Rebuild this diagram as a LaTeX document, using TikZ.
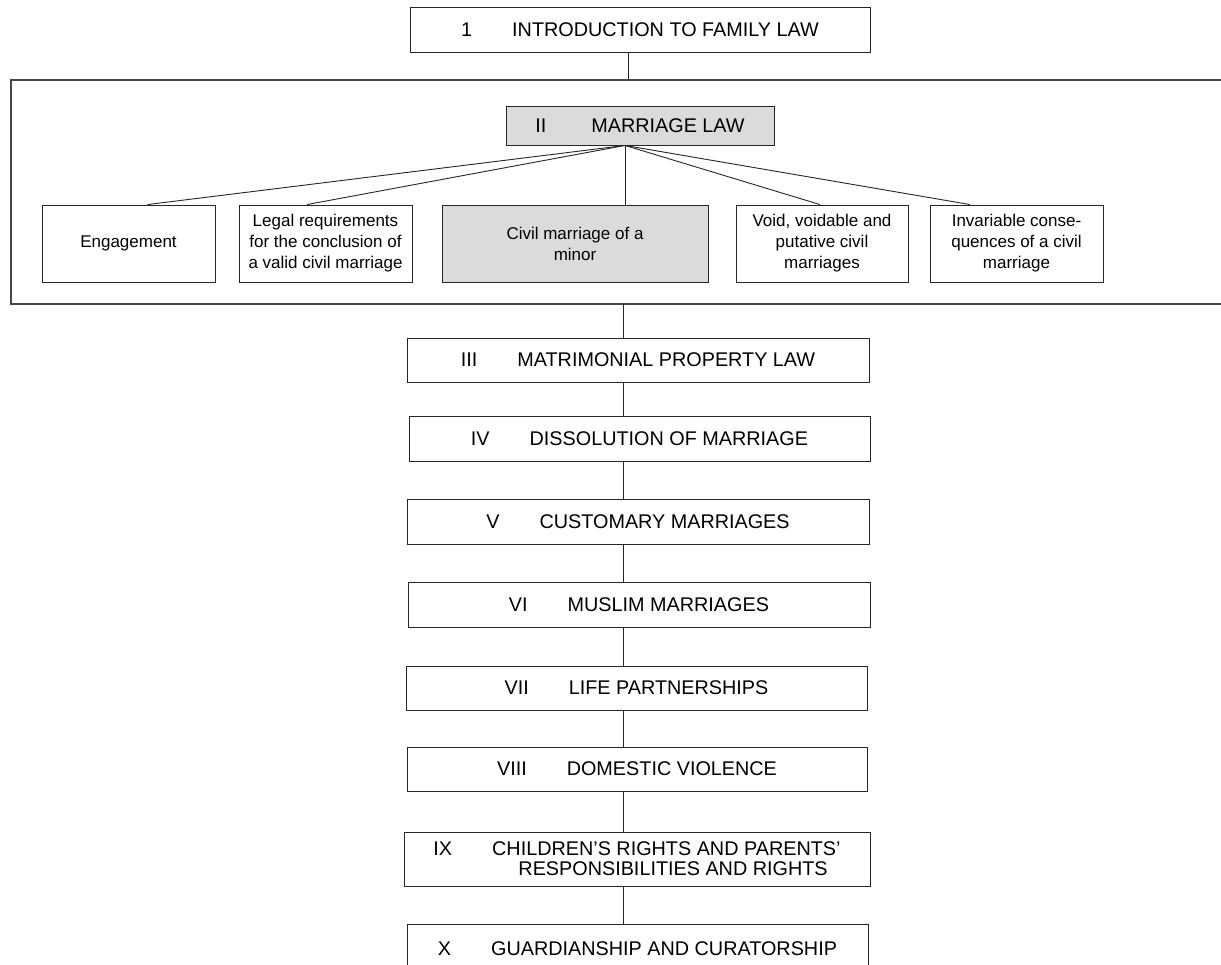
\documentclass[tikz,border=0pt]{standalone}
\usepackage{fontspec}
\setmainfont{Liberation Sans}
\newcommand\numgap{\hspace{40pt}}
\begin{document}
\begin{tikzpicture}[x=1pt,y=-1pt,
  box/.style={draw=black!85, line width=0.9pt, inner sep=0pt, align=center,
    font=\fontsize{19.8}{20}\selectfont},
  subbox/.style={draw=black!85, line width=0.9pt, inner sep=0pt, align=center,
    minimum width=173pt, minimum height=77pt,
    font=\fontsize{17}{21}\selectfont},
  shaded/.style={fill=black!14},
  link/.style={draw=black!85, line width=0.9pt},
  framed/.style={draw=black!72, line width=1.3pt}]
\useasboundingbox (0,0) rectangle (1221,964);
\clip (0,0) rectangle (1221,964);
\fill[white] (0,0) rectangle (1221,964);

% chapter one
\node[box, minimum width=460pt, minimum height=45pt] (intro) at (640,29.5)
  {1\numgap INTRODUCTION TO FAMILY LAW};

% marriage law group
\draw[framed] (1226,80) -| (11,304) -- (1226,304);
\coordinate (ftop) at (628,80);
\coordinate (fbot) at (623,304);

\node[box, shaded, minimum width=268pt, minimum height=39pt] (ml) at (640,125.5)
  {II\hspace{45pt}MARRIAGE LAW};

\node[subbox] (eng) at (128.5,243.5) {Engagement};
\node[subbox] (legal) at (325.5,243.5)
  {Legal requirements\\for the conclusion of\\a valid civil marriage};
\node[subbox, shaded, minimum width=266pt] (civil) at (575,243.5)
  {Civil marriage of a\\minor};
\node[subbox, minimum width=172pt] (void) at (822,243.5)
  {Void, voidable and\\putative civil\\marriages};
\node[subbox] (inv) at (1016.5,243.5)
  {Invariable conse-\\quences of a civil\\marriage};

\coordinate (apex) at ([xshift=-15pt]ml.south);
\draw[link] (apex) -- ([xshift=19pt]eng.north);
\draw[link] (apex) -- ([xshift=-18.5pt]legal.north);
\draw[link] (apex) -- (apex |- civil.north);
\draw[link] (apex) -- ([xshift=-2pt]void.north);
\draw[link] (apex) -- ([xshift=-46.5pt]inv.north);

\draw[link] (intro.south -| ftop) -- (ftop);

% remaining chapters
\node[box, minimum width=462pt, minimum height=44pt] (c3) at (638,360)
  {III\numgap MATRIMONIAL PROPERTY LAW};
\node[box, minimum width=461pt, minimum height=45pt] (c4) at (639.5,438.5)
  {IV\numgap DISSOLUTION OF MARRIAGE};
\node[box, minimum width=462pt, minimum height=45pt] (c5) at (638,521.5)
  {V\numgap CUSTOMARY MARRIAGES};
\node[box, minimum width=462pt, minimum height=45pt] (c6) at (639,604.5)
  {VI\numgap MUSLIM MARRIAGES};
\node[box, minimum width=461pt, minimum height=44pt] (c7) at (636.5,688)
  {VII\numgap LIFE PARTNERSHIPS};
\node[box, minimum width=460pt, minimum height=44pt] (c8) at (637,769)
  {VIII\numgap DOMESTIC VIOLENCE};
\node[box, align=left, minimum width=466pt, minimum height=54pt] (c9) at (637,859)
  {IX\numgap CHILDREN’S RIGHTS AND PARENTS’\\\hspace{85pt}RESPONSIBILITIES AND RIGHTS};
\node[box, minimum width=461pt, minimum height=49pt] (c10) at (637.5,948.5)
  {X\numgap GUARDIANSHIP AND CURATORSHIP};

\draw[link] (fbot) -- (fbot |- c3.north);
\foreach \a/\b in {c3/c4, c4/c5, c5/c6, c6/c7, c7/c8, c8/c9, c9/c10}
  \draw[link] (\a.south -| fbot) -- (\b.north -| fbot);
\end{tikzpicture}
\end{document}
